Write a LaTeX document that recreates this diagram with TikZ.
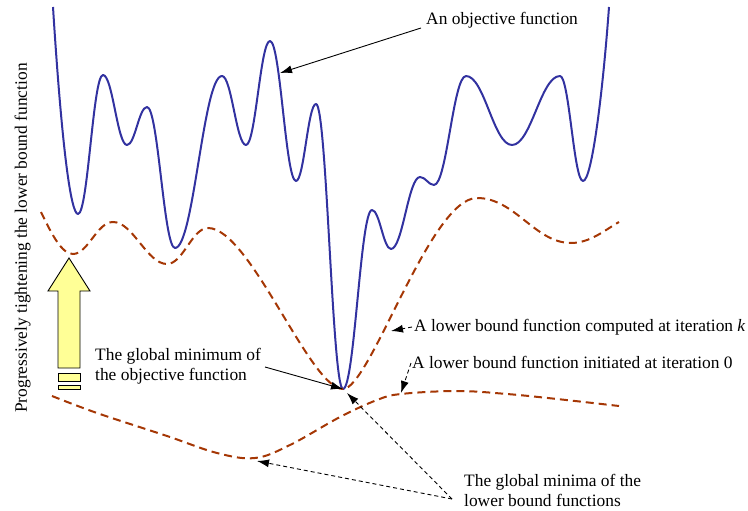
\documentclass[tikz,border=0pt]{standalone}
\usepackage{fontspec}
\setmainfont{Liberation Serif}
\usetikzlibrary{arrows.meta}
\definecolor{objblue}{RGB}{50,50,160}
\definecolor{lbbrown}{RGB}{165,55,5}
\definecolor{arrowyellow}{RGB}{255,255,150}
\begin{document}
\begin{tikzpicture}[x=1pt,y=-1pt,
  objcurve/.style={draw=objblue,line width=2pt,line join=round},
  lbcurve/.style={draw=lbbrown,line width=2pt,dash pattern=on 8pt off 5pt},
  callout/.style={draw=black,line width=0.9pt,-{Latex[length=12pt,width=8pt]}},
  dcallout/.style={callout,dash pattern=on 4pt off 3pt},
  lbl/.style={font=\fontsize{17.4}{20}\selectfont,inner sep=0pt},
  bigarrow/.style={draw=black,line width=0.9pt,fill=arrowyellow}]
\useasboundingbox (0,0) rectangle (748,511);

% objective function
\path[objcurve] (53,7) .. controls (62,150) and (71,214) .. (78,214)
  .. controls (88,214) and (93,75) .. (103,75)
  .. controls (112.6,75) and (117.4,145) .. (127,145)
  .. controls (135,145) and (139,107) .. (147,107)
  .. controls (158.2,107) and (163.8,248) .. (175,248)
  .. controls (193.8,248) and (203.2,76) .. (222,76)
  .. controls (231.6,76) and (236.4,145) .. (246,145)
  .. controls (255.6,145) and (260.4,41) .. (270,41)
  .. controls (280.4,41) and (285.6,181) .. (296,181)
  .. controls (304,181) and (308,104) .. (316,104)
  .. controls (326.8,104) and (332.2,389) .. (343,389)
  .. controls (354.6,389) and (360.4,210) .. (372,210)
  .. controls (379.6,210) and (383.4,249) .. (391,249)
  .. controls (402.6,249) and (408.4,177) .. (420,177)
  .. controls (425.6,177) and (428.4,185) .. (434,185)
  .. controls (446.8,185) and (453.2,76) .. (466,76)
  .. controls (484.4,76) and (493.6,145) .. (512,145)
  .. controls (531.2,145) and (540.8,76) .. (560,76)
  .. controls (569.2,76) and (573.8,181) .. (583,181)
  .. controls (592,181) and (603,90) .. (609,7);

% lower bound at iteration k
\path[lbcurve] (41,212) .. controls (52,235) and (62,254) .. (73,254)
  .. controls (88,254) and (97,222) .. (113,222)
  .. controls (133,222) and (147,264) .. (167,264)
  .. controls (183,264) and (192,228) .. (208,228)
  .. controls (250,228) and (310,389) .. (343,389)
  .. controls (370,389) and (430,198) .. (477,198)
  .. controls (515,198) and (535,243) .. (571,243)
  .. controls (590,243) and (605,230) .. (619,222);

% lower bound at iteration 0
\path[lbcurve] plot[smooth,tension=0.6] coordinates {(52,396) (97,413) (167,436) (217,453) (255,458) (290,445) (340,417) (377,400) (401,394) (457,391) (507,394) (557,399) (619,406)};

% yellow arrow
\path[bigarrow] (69,258) -- (90,291) -- (80,291) -- (80,368) -- (58,368) -- (58,291) -- (48,291) -- cycle;
\path[bigarrow] (58,373) rectangle (80,381);
\path[bigarrow] (58,385) rectangle (80,389);

% labels
\node[lbl,rotate=90,anchor=base] (tight) at (27,238) {Progressively tightening the lower bound function};
\node[lbl,anchor=base west] (objlbl) at (426,25) {An objective function};
\node[lbl,anchor=base west,align=left] (gminlbl) at (95,380) {The global minimum of\\the objective function};
\node[lbl,anchor=base west] (klbl) at (414,331) {A lower bound function computed at iteration \textit{k}};
\node[lbl,anchor=base west] (zlbl) at (412,368) {A lower bound function initiated at iteration 0};
\node[lbl,anchor=base west,align=left] (minlbl) at (464,506) {The global minima of the\\lower bound functions};

% connector points
\coordinate (objtip) at (280,73);
\coordinate (objfrom) at (421,28);
\coordinate (gminfrom) at (265,367);
\coordinate (gmintip) at (343,389);
\coordinate (kfrom) at (412,327);
\coordinate (ktip) at (391,331);
\coordinate (zfrom) at (411,363);
\coordinate (ztip) at (401,393);
\coordinate (minfrom) at (452,499);
\coordinate (mintipa) at (257,461);
\coordinate (mintipb) at (347,393);

\draw[callout] (objfrom) -- (objtip);
\draw[callout] (gminfrom) -- (gmintip);
\draw[dcallout] (kfrom) -- (ktip);
\draw[dcallout] (zfrom) -- (ztip);
\draw[dcallout] (minfrom) -- (mintipa);
\draw[dcallout] (minfrom) -- (mintipb);
\end{tikzpicture}
\end{document}
